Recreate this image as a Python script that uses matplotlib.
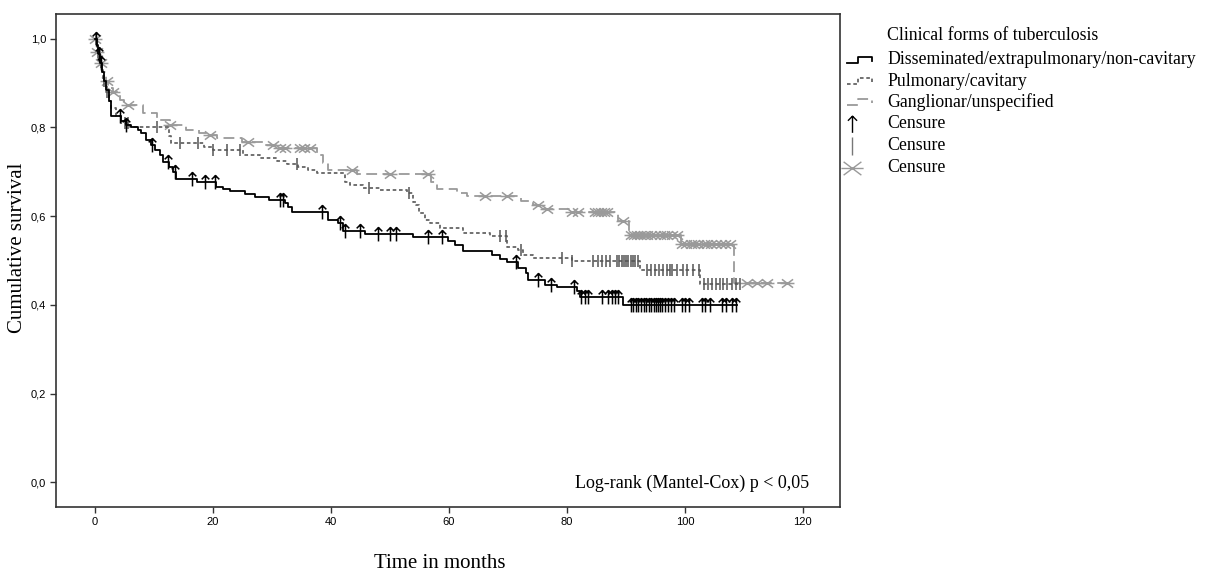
import numpy as np
import matplotlib.pyplot as plt
from matplotlib.path import Path
from matplotlib.lines import Line2D

# Kaplan-Meier steps: event time (months) -> survival after it
dis_t = [0, 0.3, 0.6, 0.9, 1.2, 1.5, 1.9, 2.3, 2.7, 4.4, 5.2, 6.1, 7.3, 7.8, 8.6, 9.5, 10.2,
         11.0, 11.5, 12.6, 13.2, 13.7, 17.3, 20.6, 21.7, 22.9, 25.4, 27.1, 29.5, 32.2, 32.7,
         33.4, 39.5, 41.2, 42.0, 45.8, 53.9, 59.8, 61.0, 62.4, 67.3, 68.6, 69.8, 71.7, 73.0,
         73.4, 76.3, 78.3, 81.7, 82.2, 89.5]
dis_s = [1.0, 0.985, 0.965, 0.945, 0.925, 0.905, 0.885, 0.86, 0.825, 0.815, 0.805, 0.80,
         0.795, 0.788, 0.772, 0.76, 0.75, 0.738, 0.722, 0.712, 0.70, 0.684, 0.677, 0.666,
         0.661, 0.657, 0.650, 0.643, 0.637, 0.630, 0.621, 0.609, 0.591, 0.585, 0.567, 0.56,
         0.553, 0.544, 0.535, 0.521, 0.512, 0.503, 0.497, 0.483, 0.472, 0.456, 0.445, 0.44,
         0.431, 0.418, 0.40]
dis_end = 108.8
dis_cens = [0.1, 0.7, 1.0, 4.3, 5.2, 9.6, 12.4, 13.6, 16.4, 18.6, 20.4, 31.3, 31.9, 38.5,
            41.5, 42.4, 44.9, 48.0, 50.0, 51.1, 56.5, 58.8, 71.4, 75.1, 77.3, 81.2, 82.4,
            83.1, 83.6, 85.9, 87.0, 87.6, 88.1, 88.6, 90.8, 91.2, 91.7, 92.1, 92.6, 93.0,
            93.4, 93.9, 94.3, 94.7, 95.1, 95.4, 95.8, 96.2, 96.7, 97.2, 97.7, 98.1, 99.6,
            100.1, 100.7, 102.9, 103.5, 104.2, 106.3, 107.0, 108.0, 108.6]

pul_t = [0, 0.3, 0.6, 1.0, 1.4, 1.8, 2.3, 2.7, 3.6, 4.4, 5.9, 12.5, 12.9, 18.5, 20.0, 25.1,
         28.0, 30.8, 32.5, 34.4, 36.1, 37.6, 42.4, 43.2, 45.4, 48.3, 52.9, 54.0, 54.5, 55.0,
         56.0, 56.8, 58.5, 62.4, 67.0, 69.8, 71.7, 72.5, 74.2, 80.8, 92.4, 102.6]
pul_s = [1.0, 0.98, 0.955, 0.93, 0.905, 0.88, 0.86, 0.845, 0.825, 0.81, 0.80, 0.78, 0.765,
         0.757, 0.75, 0.738, 0.731, 0.724, 0.718, 0.711, 0.704, 0.697, 0.677, 0.670, 0.664,
         0.659, 0.652, 0.632, 0.625, 0.607, 0.591, 0.585, 0.573, 0.562, 0.555, 0.531, 0.524,
         0.512, 0.505, 0.498, 0.478, 0.447]
pul_end = 109.3
pul_cens = [0.2, 1.5, 2.0, 5.1, 5.6, 10.5, 14.4, 17.5, 20.0, 22.4, 24.6, 34.2, 46.4, 53.3,
            68.6, 69.6, 72.2, 79.2, 80.8, 84.5, 85.2, 85.9, 86.6, 87.3, 88.5, 88.9, 89.3,
            89.7, 90.0, 90.4, 90.8, 91.2, 91.6, 92.0, 93.5, 94.3, 95.0, 95.6, 96.3, 97.0,
            97.4, 97.8, 98.6, 99.7, 100.3, 101.4, 102.4, 103.2, 104.0, 104.6, 105.2, 105.9,
            106.5, 107.2, 108.0, 108.7, 109.3]

gan_t = [0, 0.3, 0.8, 1.2, 1.8, 2.2, 3.0, 4.2, 5.0, 8.2, 10.5, 12.7, 15.5, 17.6, 19.0, 20.7,
         24.9, 28.5, 31.0, 37.6, 38.6, 39.5, 44.5, 57.0, 58.0, 61.3, 63.0, 72.3, 74.3, 75.4,
         80.8, 88.6, 90.5, 99.3, 108.3]
gan_s = [1.0, 0.97, 0.945, 0.925, 0.905, 0.89, 0.88, 0.862, 0.85, 0.833, 0.817, 0.806,
         0.795, 0.788, 0.783, 0.776, 0.768, 0.76, 0.754, 0.738, 0.72, 0.704, 0.695, 0.677,
         0.661, 0.652, 0.645, 0.634, 0.625, 0.616, 0.609, 0.59, 0.558, 0.537, 0.449]
gan_end = 118.0
gan_cens = [0.05, 0.4, 1.0, 2.0, 3.1, 5.6, 12.7, 19.5, 26.0, 30.2, 31.3, 32.2, 34.7, 35.5,
            36.4, 43.6, 50.0, 56.5, 66.1, 69.8, 75.1, 76.6, 80.8, 81.9, 84.7, 85.2, 85.8,
            86.3, 86.8, 89.5, 90.9, 91.4, 91.9, 92.4, 93.0, 93.6, 94.3, 95.0, 95.8, 96.5,
            97.0, 97.8, 98.6, 99.6, 100.2, 101.0, 101.6, 102.3, 103.2, 103.8, 104.5, 105.3,
            106.1, 106.8, 107.6, 110.5, 112.2, 113.9, 117.3]

group_names = ['Disseminated/extrapulmonary/non-cavitary', 'Pulmonary/cavitary',
               'Ganglionar/unspecified']
yticks = [0.0, 0.2, 0.4, 0.6, 0.8, 1.0]
ytick_labels = ['0,0', '0,2', '0,4', '0,6', '0,8', '1,0']
xticks = [0, 20, 40, 60, 80, 100, 120]

# censor marker shapes
arrow = Path([(0, -1), (0, 1), (-0.55, 0.45), (0, 1), (0.55, 0.45)],
             [Path.MOVETO, Path.LINETO, Path.MOVETO, Path.LINETO, Path.LINETO])
star = Path([(-1, 0), (1, 0), (-0.8, -0.6), (0.8, 0.6), (-0.8, 0.6), (0.8, -0.6)],
            [Path.MOVETO, Path.LINETO, Path.MOVETO, Path.LINETO, Path.MOVETO, Path.LINETO])

serif = 'Liberation Serif'
sans = 'Liberation Sans'
W, H = 1206, 572

fig = plt.figure(figsize=(W / 100, H / 100), dpi=100)
ax = fig.add_axes([56 / W, 1 - 507 / H, 784 / W, 493 / H])


def km(ax, t, s, end, cens, color, ls, dashes, marker, ms, mcolor, z):
    tt = list(t) + [end]
    ss = list(s) + [s[-1]]
    line, = ax.step(tt, ss, where='post', color=color, lw=1.3, linestyle=ls, zorder=z)
    if dashes:
        line.set_dashes(dashes)
    idx = np.searchsorted(t, cens, side='right') - 1
    cy = np.array(s)[idx]
    ax.plot(cens, cy, linestyle='none', marker=marker, markersize=ms, markeredgewidth=1.1,
            fillstyle='none', color=mcolor, zorder=z + 0.5)


km(ax, gan_t, gan_s, gan_end, gan_cens, '#9a9a9a', '--', (6, 3), star, 10, '#9a9a9a', 2)
km(ax, pul_t, pul_s, pul_end, pul_cens, '#666666', ':', (2, 1.5), '|', 9, '#555555', 3)
km(ax, dis_t, dis_s, dis_end, dis_cens, 'black', '-', None, arrow, 10, 'black', 4)

ax.set_xlim(-6.6, 126.3)
ax.set_ylim(-0.056, 1.056)
ax.set_xticks(xticks)
ax.set_xticklabels([str(v) for v in xticks], fontfamily=sans, fontsize=8)
ax.set_yticks(yticks)
ax.set_yticklabels(ytick_labels, fontfamily=sans, fontsize=8)
ax.tick_params(direction='out', length=4, width=1, color='#333333', pad=3)
for sp in ax.spines.values():
    sp.set_color('#333333')
    sp.set_linewidth(1.2)

ax.text(0.96, 0.048, 'Log-rank (Mantel-Cox) p < 0,05', transform=ax.transAxes,
        ha='right', va='center', fontfamily=serif, fontsize=13)
fig.text(18 / W, 1 - 248 / H, 'Cumulative survival', rotation=90, ha='center', va='center',
         fontfamily=serif, fontsize=15)
fig.text(440 / W, 1 - 563 / H, 'Time in months', ha='center', va='center',
         fontfamily=serif, fontsize=15)


# legend drawn in figure pixels
def px(x, y):
    return x / W, 1 - y / H


fig.text(*px(887, 35), 'Clinical forms of tuberculosis', ha='left', va='center',
         fontfamily=serif, fontsize=12.8)
rows = [60, 81, 102, 124, 146, 168]
labels = group_names + ['Censure', 'Censure', 'Censure']
for y, lab in zip(rows, labels):
    fig.text(*px(887, y), lab, ha='left', va='center', fontfamily=serif, fontsize=12.8)

icon_styles = [('black', '-', None), ('#666666', ':', (2, 1.5)), ('#9a9a9a', '--', (6, 3))]
for y, (c, ls, d) in zip(rows[:3], icon_styles):
    xs = [847, 858, 858, 872, 872]
    ys = [y + 3, y + 3, y - 3, y - 3, y + 1]
    fx = [v / W for v in xs]
    fy = [1 - v / H for v in ys]
    ln = Line2D(fx, fy, transform=fig.transFigure, color=c, lw=1.3, linestyle=ls)
    if d:
        ln.set_dashes(d)
    fig.add_artist(ln)

for y, m, ms, c in zip(rows[3:], [arrow, '|', star], [12, 13, 16], ['black', '#777777', '#9a9a9a']):
    fig.add_artist(Line2D([852 / W], [1 - y / H], transform=fig.transFigure, marker=m,
                          markersize=ms, markeredgewidth=1.0, fillstyle='none', color=c,
                          linestyle='none'))

fig.savefig('out.png', dpi=100)
